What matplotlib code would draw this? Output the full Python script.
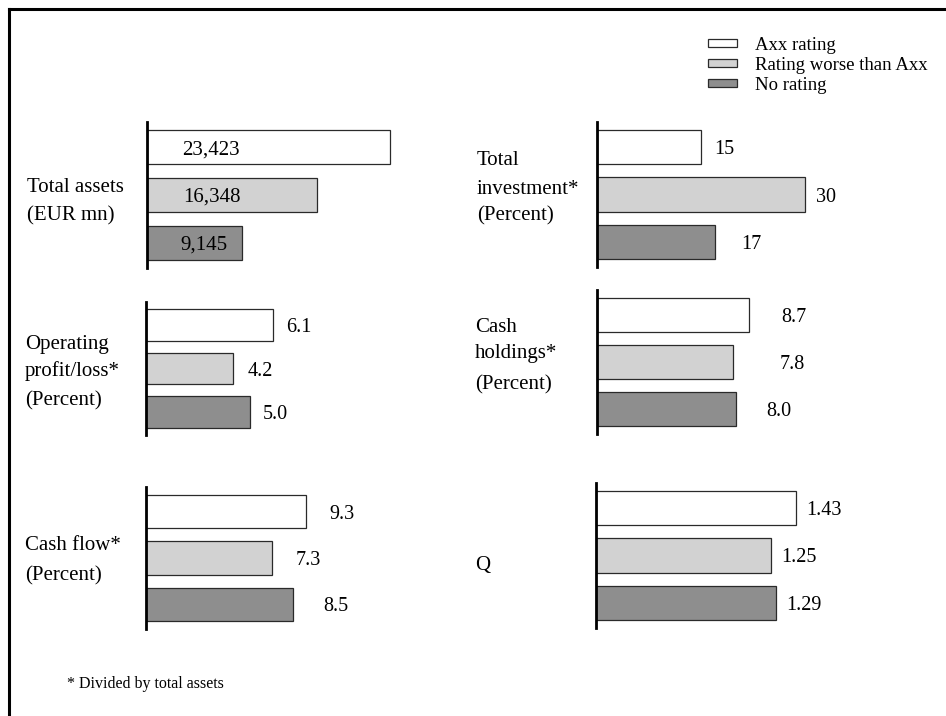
import matplotlib
matplotlib.use("Agg")
import matplotlib.pyplot as plt
from matplotlib.patches import Rectangle
from matplotlib.lines import Line2D

plt.rcParams["font.family"] = ["Liberation Serif", "DejaVu Serif"]

W, H = 946, 716

# Series
series = ["Axx rating", "Rating worse than Axx", "No rating"]
colors = ["#ffffff", "#d2d2d2", "#8e8e8e"]

# Panel data (values per series, top to bottom)
total_assets = [23423, 16348, 9145]
total_investment = [15, 30, 17]
operating_profit = [6.1, 4.2, 5.0]
cash_holdings = [8.7, 7.8, 8.0]
cash_flow = [9.3, 7.3, 8.5]
q_values = [1.43, 1.25, 1.29]

panel_titles = [
    ["Total assets", "(EUR mn)"],
    ["Total", "investment*", "(Percent)"],
    ["Operating", "profit/loss*", "(Percent)"],
    ["Cash", "holdings*", "(Percent)"],
    ["Cash flow*", "(Percent)"],
    ["Q"],
]
footnote = "* Divided by total assets"

fig = plt.figure(figsize=(W / 100, H / 100), dpi=100)


def fx(x):
    return x / W


def fy(y):
    return 1 - y / H


# layout in pixels: axis x, axis top, axis bottom, px per unit, label gaps,
# title x, title line centres, value format, label inside bar
panels = [
    (total_assets, 147, 122, 268, 243 / 23423, [35, 36, 33], 27, [185, 213], "{:,.0f}", True),
    (total_investment, 597, 122, 267, 104 / 15, [13, 11, 26], 477, [158, 187, 213], "{:.0f}", False),
    (operating_profit, 146, 302, 435, 127 / 6.1, [13, 14, 13], 25, [342, 369, 398], "{:.1f}", False),
    (cash_holdings, 597, 290, 434, 151.6 / 8.7, [33, 47, 30], 475, [325, 351, 382], "{:.1f}", False),
    (cash_flow, 146, 487, 629, 160.4 / 9.3, [23, 24, 31], 25, [543, 573], "{:.1f}", False),
    (q_values, 596, 483, 628, 199.7 / 1.43, [11, 11, 10], 475, [563], "{:.2f}", False),
]

ax_w = 320
for (vals, x0, top, bot, ppu, gaps, tx, ty, fmt, inside), title in zip(panels, panel_titles):
    ax = fig.add_axes([fx(x0), fy(bot), ax_w / W, (bot - top) / H])
    ax.set_xlim(0, ax_w / ppu)
    ax.set_ylim(2.53, -0.53)
    ax.barh(range(3), vals, height=0.72, color=colors, edgecolor="#2a2a2a", linewidth=0.9)
    for i, (v, g) in enumerate(zip(vals, gaps)):
        anchor = 0 if inside else v
        ax.annotate(fmt.format(v), xy=(anchor, i), xytext=(g, 0), textcoords="offset pixels",
                    va="center_baseline", ha="left", fontsize=15 if inside else 14.5)
    ax.patch.set_visible(False)
    for s in ["top", "right", "bottom"]:
        ax.spines[s].set_visible(False)
    ax.spines["left"].set_linewidth(2.0)
    ax.set_xticks([])
    ax.set_yticks([])
    for line, yy in zip(title, ty):
        fig.text(fx(tx), fy(yy), line, ha="left", va="center_baseline", fontsize=15)

# Legend
leg_y = [43, 63, 83]
for name, c, yy in zip(series, colors, leg_y):
    fig.patches.append(Rectangle((fx(708), fy(yy + 4)), 29 / W, 8 / H, transform=fig.transFigure,
                                 facecolor=c, edgecolor="#2a2a2a", linewidth=0.9))
    fig.text(fx(755), fy(yy), name, ha="left", va="center_baseline", fontsize=13.5)

fig.text(fx(67), fy(682), footnote, ha="left", va="center_baseline", fontsize=11.5)

# Frame on the left and top edges
fig.lines.append(Line2D([fx(9), fx(9)], [0, fy(9)], transform=fig.transFigure, color="black", linewidth=2.2))
fig.lines.append(Line2D([fx(9), 1], [fy(9), fy(9)], transform=fig.transFigure, color="black", linewidth=2.2))

fig.savefig("out.png", dpi=100, facecolor="white")
